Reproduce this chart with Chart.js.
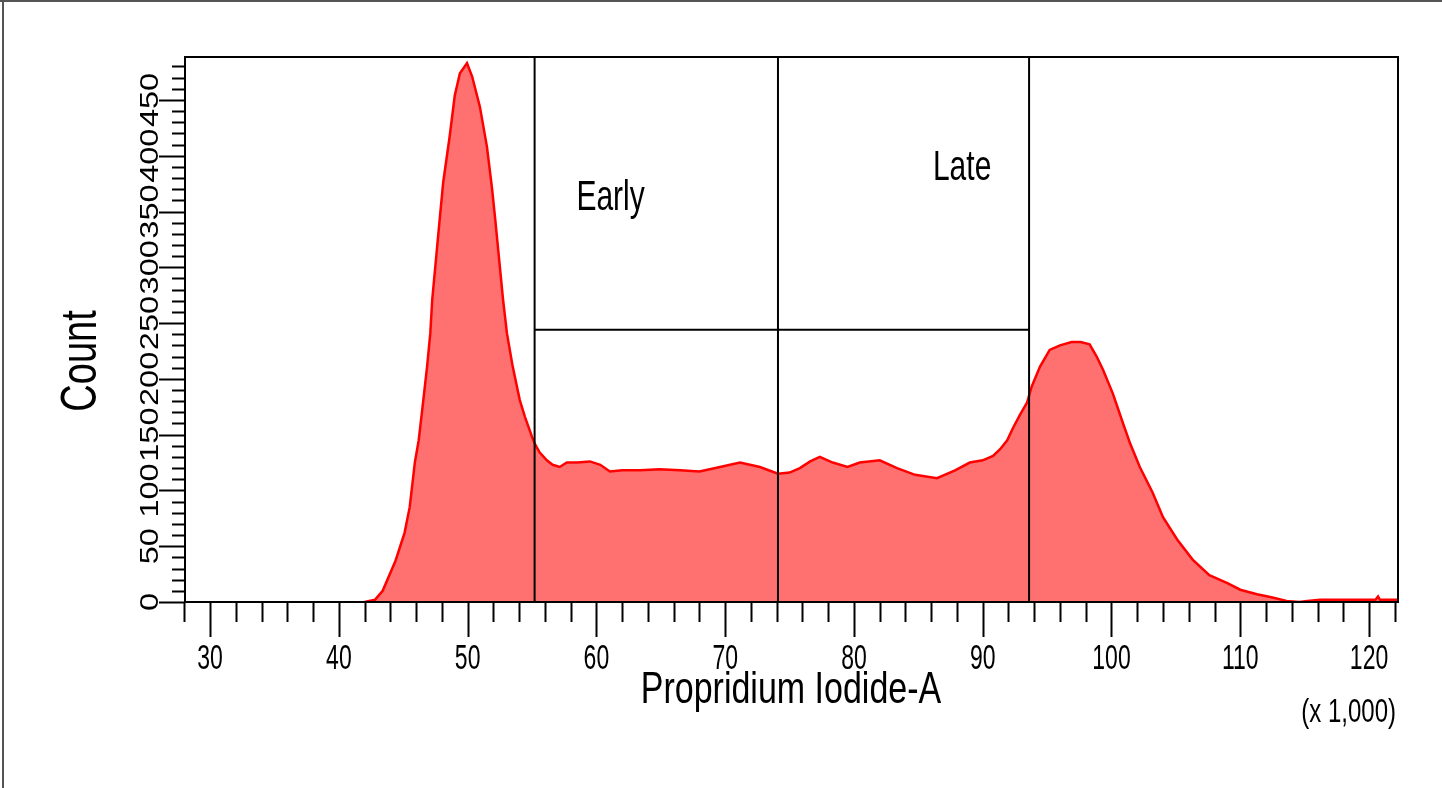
<!DOCTYPE html>
<html>
<head>
<meta charset="utf-8">
<title>Propridium Iodide histogram</title>
<script src="https://cdn.jsdelivr.net/npm/chart.js@4.4.1/dist/chart.umd.min.js"></script>
<style>
  html, body { margin: 0; padding: 0; background: #fff; }
  canvas { display: block; }
</style>
</head>
<body>
<canvas id="histChart" width="1442" height="788"></canvas>
<script>
// Histogram (x in thousands, count)
const piValues = [42.0, 42.8, 43.4, 44.4, 45.1, 45.5, 45.9, 46.2, 46.5, 46.85, 47.1, 47.25, 47.7, 48.1, 48.6, 49.0, 49.4, 49.95, 50.35, 50.95, 51.5, 51.9, 52.15, 52.75, 53.05, 53.5, 54.05, 54.45, 55.0, 55.25, 55.6, 56.15, 56.6, 57.15, 57.7, 58.5, 59.5, 60.3, 61.05, 62.0, 63.4, 64.9, 66.5, 68.0, 69.6, 71.15, 72.7, 74.1, 75.0, 75.8, 76.6, 77.35, 78.35, 79.5, 80.45, 82.0, 83.35, 84.75, 86.45, 87.85, 89.0, 90.0, 90.8, 91.35, 91.9, 92.35, 92.9, 93.45, 93.8, 94.45, 95.2, 96.0, 96.9, 97.6, 98.3, 98.85, 99.35, 100.1, 100.9, 101.45, 102.2, 103.2, 104.0, 105.1, 106.3, 107.6, 109.0, 110.0, 111.3, 112.5, 113.6, 114.6, 115.2, 116.2, 120.5, 120.7, 120.85, 122.2]
const counts = [0, 2, 10, 37, 62, 85, 125, 145, 175, 211, 241, 271, 327, 376, 417, 454, 474, 483, 471, 444, 408, 370, 342, 271, 241, 211, 181, 166, 148, 141, 134, 127, 123, 121, 125, 125, 126, 123, 117, 118, 118, 119, 118, 117, 121, 125, 121, 115, 116, 120, 126, 130, 125, 121, 125, 127, 120, 114, 111, 118, 125, 127, 131, 137, 145, 156, 168, 179, 193, 211, 226, 230, 233, 233, 231, 220, 208, 187, 160, 142, 121, 98, 76, 56, 38, 24, 17, 11, 7, 4, 1, 0, 1, 2, 2, 5, 2, 2]

// Gates
const gateX = [55.2, 74.1, 93.6]
const gateSplitY = 244
const gateLabels = ["Early", "Late"]
const gateLabelPos = [[61.1, 351], [88.4, 378]]

// Axes
const xMin = 28.05, xMax = 122.25
const yMin = 0, yMax = 488.5
const xTickLabels = ["30", "40", "50", "60", "70", "80", "90", "100", "110", "120"]
const yTickLabels = ["0", "50", "100", "150", "200", "250", "300", "350", "400", "450"]
const xMinorStep = 2
const yMinorStep = 10
const xTitle = "Propridium Iodide-A"
const yTitle = "Count"
const xUnit = "(x 1,000)"

const FONT = "'Liberation Sans', Arial, sans-serif"

function stretchedText(ctx, text, x, y, size, sy, align) {
  ctx.save()
  ctx.translate(x, y)
  ctx.scale(1, sy)
  ctx.font = size + "px " + FONT
  ctx.textAlign = align
  ctx.textBaseline = "alphabetic"
  ctx.fillText(text, 0, 0)
  ctx.restore()
}

function rotatedText(ctx, text, x, y, size, sx, sy) {
  ctx.save()
  ctx.translate(x, y)
  ctx.rotate(-Math.PI / 2)
  ctx.scale(sx, sy)
  ctx.font = size + "px " + FONT
  ctx.textAlign = "center"
  ctx.textBaseline = "middle"
  ctx.fillText(text, 0, 0)
  ctx.restore()
}

function seg(ctx, x1, y1, x2, y2) {
  ctx.beginPath()
  ctx.moveTo(x1, y1)
  ctx.lineTo(x2, y2)
  ctx.stroke()
}

const axisPlugin = {
  id: "axisPlugin",
  beforeDraw(chart) {
    const ctx = chart.ctx
    ctx.save()
    ctx.fillStyle = "#fff"
    ctx.fillRect(0, 0, chart.width, chart.height)
    // outer frame (top and left)
    ctx.strokeStyle = "#555"
    ctx.lineWidth = 2
    seg(ctx, 0, 1, chart.width, 1)
    seg(ctx, 3, 0, 3, chart.height)
    ctx.restore()
  },
  afterDraw(chart) {
    const { ctx, chartArea: a, scales: { x, y } } = chart
    ctx.save()
    ctx.strokeStyle = "#000"
    ctx.fillStyle = "#000"
    ctx.lineWidth = 2
    ctx.strokeRect(a.left, a.top, a.right - a.left, a.bottom - a.top)

    // x ticks
    for (let v = 28; v <= xMax; v += xMinorStep) {
      const px = Math.round(x.getPixelForValue(v)) + 0.5
      const major = xTickLabels.includes(String(v))
      seg(ctx, px, a.bottom, px, a.bottom + (major ? 35 : 20))
    }
    xTickLabels.forEach((t) => {
      const px = x.getPixelForValue(Number(t))
      stretchedText(ctx, t, px, 669, 23, 1.5, "center")
    })

    // y ticks
    for (let v = 0; v <= yMax; v += yMinorStep) {
      const py = Math.round(y.getPixelForValue(v)) + 0.5
      const major = yTickLabels.includes(String(v))
      seg(ctx, a.left, py, a.left - (major ? 26 : 13), py)
    }
    yTickLabels.forEach((t) => {
      const py = y.getPixelForValue(Number(t))
      rotatedText(ctx, t, 151, py, 26, 1.25, 1)
    })

    // titles
    stretchedText(ctx, xTitle, 791, 703, 34, 1.3, "center")
    rotatedText(ctx, yTitle, 82, 361, 38, 1, 1.3)
    stretchedText(ctx, xUnit, 1396, 722, 24, 1.4, "right")

    // gate labels
    gateLabels.forEach((t, i) => {
      const [gx, gy] = gateLabelPos[i]
      stretchedText(ctx, t, x.getPixelForValue(gx), y.getPixelForValue(gy), 30, 1.4, "center")
    })
    ctx.restore()
  },
}

const histData = piValues.map((v, i) => ({ x: v, y: counts[i] }))

const gateSets = gateX.map((g) => ({
  data: [{ x: g, y: yMin }, { x: g, y: yMax }],
  borderColor: "#000",
  borderWidth: 2,
  pointRadius: 0,
  fill: false,
  order: 1,
}))
gateSets.push({
  data: [{ x: gateX[0], y: gateSplitY }, { x: gateX[2], y: gateSplitY }],
  borderColor: "#000",
  borderWidth: 2,
  pointRadius: 0,
  fill: false,
  order: 1,
})

new Chart(document.getElementById("histChart"), {
  type: "line",
  data: {
    datasets: [
      ...gateSets,
      {
        label: "Count",
        data: histData,
        borderColor: "#ff0000",
        backgroundColor: "rgb(255, 112, 112)",
        borderWidth: 2.5,
        pointRadius: 0,
        tension: 0,
        fill: "origin",
        order: 2,
      },
    ],
  },
  options: {
    responsive: false,
    animation: false,
    layout: { padding: { left: 185, top: 57, right: 44, bottom: 186 } },
    plugins: {
      legend: { display: false },
      tooltip: { enabled: false },
    },
    scales: {
      x: { type: "linear", min: xMin, max: xMax, display: false },
      y: { type: "linear", min: yMin, max: yMax, display: false },
    },
  },
  plugins: [axisPlugin],
})
</script>
</body>
</html>
